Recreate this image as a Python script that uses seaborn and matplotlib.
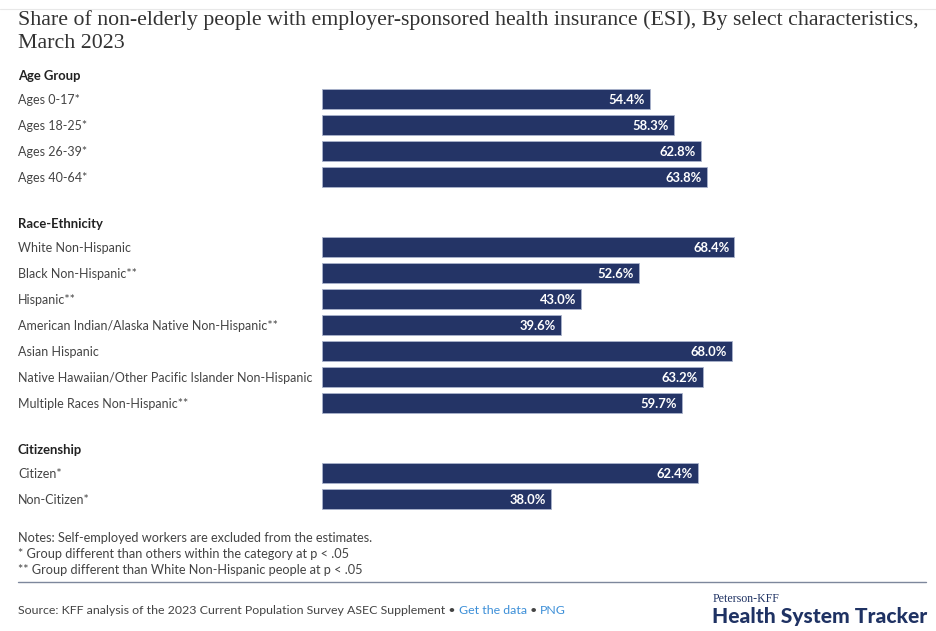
import matplotlib
matplotlib.use("Agg")
import matplotlib.pyplot as plt
import matplotlib.transforms as mtransforms
import pandas as pd
import seaborn as sns

# ---- data ----
group_titles = ["Age Group", "Race-Ethnicity", "Citizenship"]
age_labels = ["Ages 0-17*", "Ages 18-25*", "Ages 26-39*", "Ages 40-64*"]
age_values = [54.4, 58.3, 62.8, 63.8]
race_labels = ["White Non-Hispanic", "Black Non-Hispanic**", "Hispanic**",
               "American Indian/Alaska Native Non-Hispanic**", "Asian Hispanic",
               "Native Hawaiian/Other Pacific Islander Non-Hispanic",
               "Multiple Races Non-Hispanic**"]
race_values = [68.4, 52.6, 43.0, 39.6, 68.0, 63.2, 59.7]
cit_labels = ["Citizen*", "Non-Citizen*"]
cit_values = [62.4, 38.0]

title_lines = ["Share of non-elderly people with employer-sponsored health insurance (ESI), By select characteristics,",
               "March 2023"]
notes = ["Notes: Self-employed workers are excluded from the estimates.",
         "* Group different than others within the category at p < .05",
         "** Group different than White Non-Hispanic people at p < .05"]

BAR = "#243466"
TXT = "#444444"

# ---- layout (pixel-like vertical units) ----
W, H = 936, 631
first_row = 99
row_step = 26
group_gap = 70
header_off = 24

rows = []
headers = []
y = first_row
for gi, (labs, vals) in enumerate([(age_labels, age_values),
                                   (race_labels, race_values),
                                   (cit_labels, cit_values)]):
    headers.append((group_titles[gi], y - header_off))
    for i, (l, v) in enumerate(zip(labs, vals)):
        rows.append({"label": l, "value": v, "y": y})
        if i < len(labs) - 1:
            y += row_step
    y += group_gap
df = pd.DataFrame(rows)

sns.set_theme(style="white")
plt.rcParams["font.family"] = ["Lato", "DejaVu Sans"]

fig = plt.figure(figsize=(W / 100, H / 100), dpi=100)
ax_left, ax_right = 322, 925
ax = fig.add_axes([ax_left / W, 0, (ax_right - ax_left) / W, 1])

sns.barplot(data=df, x="value", y="y", orient="h", native_scale=True,
            color=BAR, saturation=1, width=0.8, errorbar=None,
            edgecolor="#aab3cc", linewidth=0.6, ax=ax)
ax.set_xlim(0, 100)
ax.set_ylim(H, 0)
ax.axis("off")

# value labels
for _, r in df.iterrows():
    ax.text(r["value"] - 0.85, r["y"] + 0.5, f"{r['value']:.1f}%", ha="right", va="center",
            color="white", fontsize=9.4, fontweight="bold")

blend = mtransforms.blended_transform_factory(fig.transFigure, ax.transData)
lx = 18 / W
for _, r in df.iterrows():
    ax.text(lx, r["y"] + 0.5, r["label"], transform=blend, ha="left", va="center",
            color=TXT, fontsize=9, clip_on=False)
for t, hy in headers:
    ax.text(lx, hy + 0.5, t, transform=blend, ha="left", va="center",
            color="#222222", fontsize=9.4, fontweight="bold", clip_on=False)

# title, fitted to the reference width
fig.canvas.draw()
renderer = fig.canvas.get_renderer()
t1 = fig.text(lx, 1 - 20 / H, title_lines[0], ha="left", va="center", fontsize=14,
              family=["Liberation Serif"], color="#333333")
w1 = t1.get_window_extent(renderer=renderer).width
fs = 14 * 906 / w1
t1.set_fontsize(fs)
fig.text(lx, 1 - 44 / H, title_lines[1], ha="left", va="center", fontsize=fs,
         family=["Liberation Serif"], color="#333333")

# faint top line
fig.add_artist(plt.Line2D([0, 1], [1 - 9 / H, 1 - 9 / H], color="#e8e8e8", lw=0.8))

# notes
for i, n in enumerate(notes):
    fig.text(lx, 1 - (538 + i * 16) / H, n, ha="left", va="center", fontsize=9.2, color=TXT)

# separator
fig.add_artist(plt.Line2D([18 / W, 926 / W], [1 - 582 / H, 1 - 582 / H], color="#7d879c", lw=1.0))

# source line with links
sy = 1 - 611 / H
parts = [("Source: KFF analysis of the 2023 Current Population Survey ASEC Supplement \u2022 ", TXT),
         ("Get the data", "#3c8fd8"), (" \u2022 ", TXT), ("PNG", "#3c8fd8")]
x = lx
for s, c in parts:
    t = fig.text(x, sy, s, ha="left", va="center", fontsize=8.9, color=c)
    bb = t.get_window_extent(renderer=renderer)
    x += bb.width / W

# logo
fig.text(713 / W, 1 - 599 / H, "Peterson-KFF", ha="left", va="center", fontsize=8.6,
         family=["Liberation Serif"], color="#1f3263")
fig.text(712 / W, 1 - 617 / H, "Health System Tracker", ha="left", va="center", fontsize=15.1,
         fontweight=900, color="#1f3263")

fig.savefig("out.png", dpi=100)
